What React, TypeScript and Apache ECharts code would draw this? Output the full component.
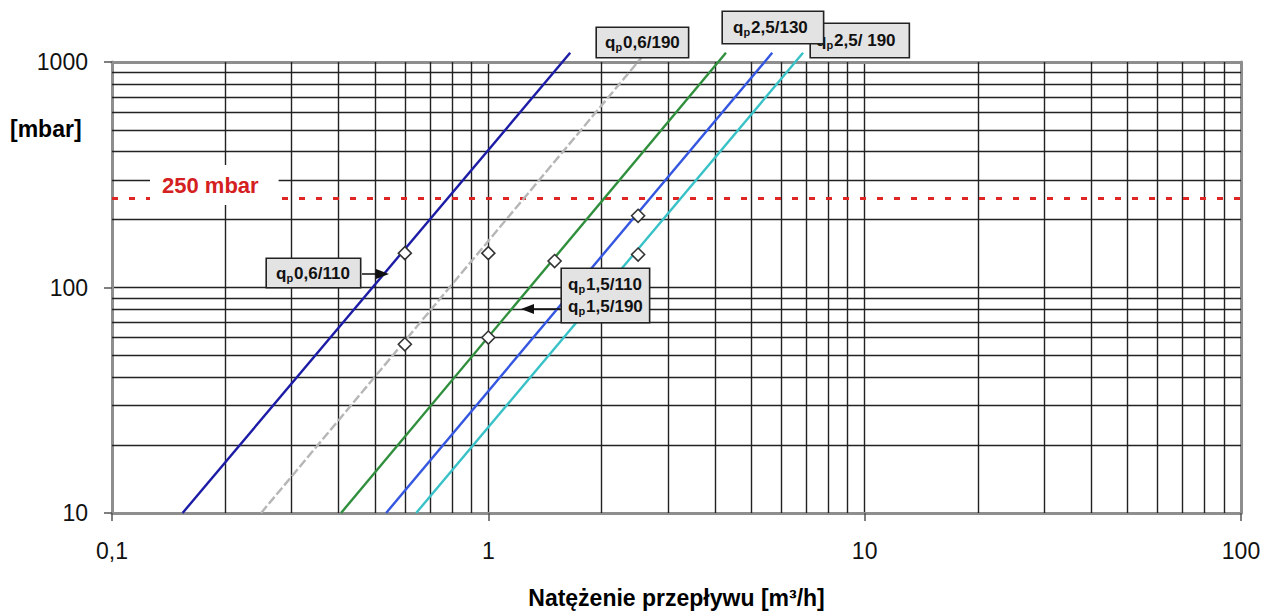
import { useEffect, useRef } from 'react';
import * as echarts from 'echarts';

// ---- data ----
const xMinorGrid = [0.2, 0.3, 0.4, 0.5, 0.6, 0.7, 0.8, 0.9, 2, 3, 4, 5, 6, 7, 8, 9, 20, 30, 40, 50, 60, 70, 80, 90];
const yMinorGrid = [20, 30, 40, 50, 60, 70, 80, 90, 200, 300, 400, 500, 600, 700, 800, 900];
const limitPressure = 250;

const seriesNames = ['qp0,6/110', 'qp0,6/190', 'qp1,5', 'qp2,5/130', 'qp2,5/190'];
// flow [m3/h] at both ends of each characteristic line
const lineFlowEnds = [
  [0.154, 1.65],
  [0.249, 2.56],
  [0.406, 4.28],
  [0.535, 5.68],
  [0.643, 6.86],
];
// pressure drop [mbar] at both ends
const linePressureEnds = [
  [10, 1098],
  [10, 1052],
  [10, 1098],
  [10, 1098],
  [10, 1098],
];
// measured points (diamonds)
const markerFlows = [0.6, 0.6, 1, 1, 1.5, 2.5, 2.5];
const markerPressures = [142, 56, 142, 60, 131, 208, 140];

const lineLabelTexts = [
  'q{s|p}2,5/ 190',
  'q{s|p}2,5/130',
  'q{s|p}0,6/190',
  'q{s|p}0,6/110',
  'q{s|p}1,5/110\nq{s|p}1,5/190',
];

const FONT = "'Liberation Sans', Arial, Helvetica, sans-serif";

export default function App() {
  const ref = useRef<HTMLDivElement>(null);

  useEffect(() => {
    const chart = echarts.init(ref.current!, null, { renderer: 'svg' });
    const fmt = (v: number) => String(+Number(v).toPrecision(3)).replace('.', ',');

    const lineStyles = [
      { color: '#1c1ca6', type: 'solid' },
      { color: '#b6b6b6', type: [9, 3] },
      { color: '#2f8f3c', type: 'solid' },
      { color: '#3456e0', type: 'solid' },
      { color: '#38c2c8', type: 'solid' },
    ];

    const gridLine = { color: '#222222', width: 1.4, type: 'solid' };
    const frameLine = { show: true, onZero: false, lineStyle: { color: '#8e8e8e', width: 3 } };

    const lineSeries: any[] = seriesNames.map((name, i) => {
      const s: any = {
        name,
        type: 'line',
        clip: false,
        showSymbol: false,
        symbol: 'none',
        xAxisIndex: 0,
        yAxisIndex: 0,
        z: 3,
        data: lineFlowEnds[i].map((q, j) => [q, linePressureEnds[i][j]]),
        lineStyle: { color: lineStyles[i].color, width: 2.4, type: lineStyles[i].type },
      };
      if (i === 0) {
        s.markLine = {
          silent: true,
          symbol: 'none',
          z: 1,
          label: { show: false },
          lineStyle: gridLine,
          data: [
            ...xMinorGrid.map((v) => ({ xAxis: v })),
            ...yMinorGrid.map((v) => ({ yAxis: v })),
            { yAxis: limitPressure, lineStyle: { color: '#e02525', width: 3, type: [6, 11] } },
          ],
        };
      }
      return s;
    });

    const subRich = {
      s: {
        fontSize: 11,
        fontWeight: 'bold',
        fontFamily: FONT,
        fill: '#111',
        lineHeight: 11,
        padding: [9, 1, 0, 0],
      },
    };

    const boxPos = [
      { x: 811, y: 24, padding: [6, 13, 7, 5] },
      { x: 723, y: 12, padding: [5, 15, 6, 10] },
      { x: 597, y: 28, padding: [4, 8, 5, 8] },
      { x: 267, y: 259, padding: [4, 10, 4, 9] },
      { x: 562, y: 269, padding: [4, 6, 5, 6] },
    ];

    const boxes = lineLabelTexts.map((t, i) => ({
      type: 'text',
      x: boxPos[i].x,
      y: boxPos[i].y,
      z: 100 + i,
      silent: true,
      style: {
        text: t,
        align: 'left',
        verticalAlign: 'top',
        fontSize: 17,
        fontWeight: 'bold',
        fontFamily: FONT,
        fill: '#111',
        lineHeight: i === 4 ? 22 : 20,
        backgroundColor: '#e3e3e3',
        borderColor: '#222',
        borderWidth: 1.6,
        padding: boxPos[i].padding,
        rich: subRich,
      },
    }));

    const option: any = {
      animation: false,
      backgroundColor: '#ffffff',
      textStyle: { fontFamily: FONT },
      grid: { left: 112, right: 30, top: 62, bottom: 97, containLabel: false },
      xAxis: [
        {
          type: 'log',
          logBase: 10,
          min: 0.1,
          max: 100,
          position: 'bottom',
          axisLine: frameLine,
          axisTick: { show: true, length: 8, lineStyle: { color: '#555', width: 1.5 } },
          axisLabel: {
            formatter: fmt,
            fontSize: 23,
            color: '#111',
            margin: 26,
            fontFamily: FONT,
            showMinLabel: true,
            showMaxLabel: true,
          },
          splitLine: { show: true, lineStyle: gridLine },
          name: 'Natężenie przepływu [m³/h]',
          nameLocation: 'middle',
          nameGap: 73,
          nameTextStyle: { fontSize: 23, fontWeight: 'bold', color: '#000', fontFamily: FONT },
        },
        {
          type: 'log',
          logBase: 10,
          min: 0.1,
          max: 100,
          position: 'top',
          axisLine: frameLine,
          axisTick: { show: false },
          axisLabel: { show: false },
          splitLine: { show: false },
        },
      ],
      yAxis: [
        {
          type: 'log',
          logBase: 10,
          min: 10,
          max: 1000,
          position: 'left',
          axisLine: frameLine,
          axisTick: { show: true, length: 8, lineStyle: { color: '#555', width: 1.5 } },
          axisLabel: {
            formatter: fmt,
            fontSize: 23,
            color: '#111',
            margin: 24,
            fontFamily: FONT,
            showMinLabel: true,
            showMaxLabel: true,
          },
          splitLine: { show: true, lineStyle: gridLine },
        },
        {
          type: 'log',
          logBase: 10,
          min: 10,
          max: 1000,
          position: 'right',
          axisLine: frameLine,
          axisTick: { show: false },
          axisLabel: { show: false },
          splitLine: { show: false },
        },
      ],
      series: [
        ...lineSeries,
        {
          name: 'pomiary',
          type: 'scatter',
          xAxisIndex: 0,
          yAxisIndex: 0,
          z: 4,
          symbol: 'diamond',
          symbolSize: 13,
          itemStyle: { color: '#ffffff', borderColor: '#333', borderWidth: 1.6, opacity: 1 },
          data: markerFlows.map((q, i) => [q, markerPressures[i]]),
        },
      ],
      graphic: [
        {
          type: 'text',
          x: 10,
          y: 129,
          z: 100,
          style: {
            text: '[mbar]',
            align: 'left',
            verticalAlign: 'middle',
            fontSize: 23,
            fontWeight: 'bold',
            fontFamily: FONT,
            fill: '#000',
          },
        },
        {
          type: 'text',
          x: 150,
          y: 165,
          z: 100,
          style: {
            text: '250 mbar',
            align: 'left',
            verticalAlign: 'top',
            fontSize: 22,
            fontWeight: 'bold',
            fontFamily: FONT,
            fill: '#d42020',
            backgroundColor: '#ffffff',
            padding: [9, 20, 9, 12],
          },
        },
        ...boxes,
        {
          type: 'line',
          z: 100,
          shape: { x1: 362, y1: 274, x2: 378, y2: 274 },
          style: { stroke: '#111', lineWidth: 1.5 },
        },
        {
          type: 'polygon',
          z: 100,
          shape: { points: [[389, 274], [376, 269], [376, 279]] },
          style: { fill: '#111' },
        },
        {
          type: 'line',
          z: 100,
          shape: { x1: 533, y1: 309, x2: 562, y2: 309 },
          style: { stroke: '#111', lineWidth: 1.5 },
        },
        {
          type: 'polygon',
          z: 100,
          shape: { points: [[521, 309], [534, 304], [534, 314]] },
          style: { fill: '#111' },
        },
      ],
    };

    chart.setOption(option);
    return () => chart.dispose();
  }, []);

  return (
    <div
      ref={ref}
      style={{ position: 'fixed', left: 0, top: 0, width: 1271, height: 614, background: '#fff' }}
    />
  );
}
